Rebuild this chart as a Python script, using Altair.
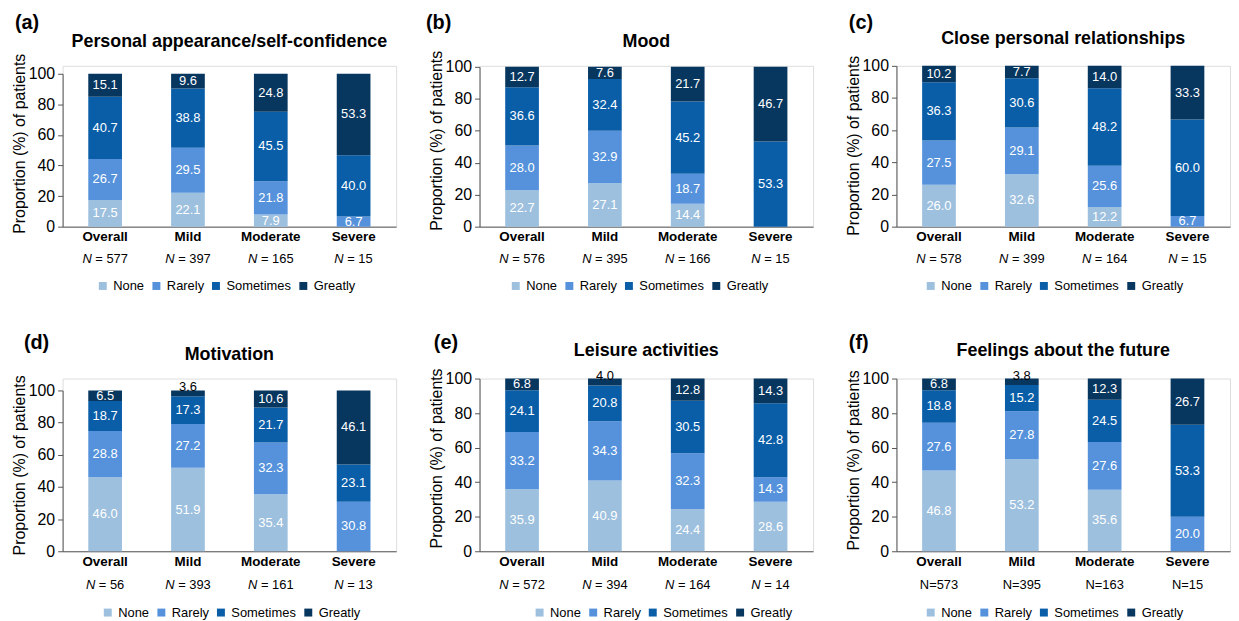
import altair as alt
import pandas as pd

F = "Liberation Sans"

categories = ["Overall", "Mild", "Moderate", "Severe"]
levels = ["None", "Rarely", "Sometimes", "Greatly"]
colors = ["#9DC0DE", "#5592DB", "#0A5EA8", "#07365F"]

letters = ["(a)", "(b)", "(c)", "(d)", "(e)", "(f)"]
titles = ["Personal appearance/self-confidence", "Mood", "Close personal relationships",
          "Motivation", "Leisure activities", "Feelings about the future"]

n_a = [577, 397, 165, 15]
n_b = [576, 395, 166, 15]
n_c = [578, 399, 164, 15]
n_d = [56, 393, 161, 13]
n_e = [572, 394, 164, 14]
n_f = [573, 395, 163, 15]

a_none = [17.5, 22.1, 7.9, 0.0]
a_rarely = [26.7, 29.5, 21.8, 6.7]
a_sometimes = [40.7, 38.8, 45.5, 40.0]
a_greatly = [15.1, 9.6, 24.8, 53.3]

b_none = [22.7, 27.1, 14.4, 0.0]
b_rarely = [28.0, 32.9, 18.7, 0.0]
b_sometimes = [36.6, 32.4, 45.2, 53.3]
b_greatly = [12.7, 7.6, 21.7, 46.7]

c_none = [26.0, 32.6, 12.2, 0.0]
c_rarely = [27.5, 29.1, 25.6, 6.7]
c_sometimes = [36.3, 30.6, 48.2, 60.0]
c_greatly = [10.2, 7.7, 14.0, 33.3]

d_none = [46.0, 51.9, 35.4, 0.0]
d_rarely = [28.8, 27.2, 32.3, 30.8]
d_sometimes = [18.7, 17.3, 21.7, 23.1]
d_greatly = [6.5, 3.6, 10.6, 46.1]

e_none = [35.9, 40.9, 24.4, 28.6]
e_rarely = [33.2, 34.3, 32.3, 14.3]
e_sometimes = [24.1, 20.8, 30.5, 42.8]
e_greatly = [6.8, 4.0, 12.8, 14.3]

f_none = [46.8, 53.2, 35.6, 0.0]
f_rarely = [27.6, 27.8, 27.6, 20.0]
f_sometimes = [18.8, 15.2, 24.5, 53.3]
f_greatly = [6.8, 3.8, 12.3, 26.7]

panel_values = [
    [a_none, a_rarely, a_sometimes, a_greatly],
    [b_none, b_rarely, b_sometimes, b_greatly],
    [c_none, c_rarely, c_sometimes, c_greatly],
    [d_none, d_rarely, d_sometimes, d_greatly],
    [e_none, e_rarely, e_sometimes, e_greatly],
    [f_none, f_rarely, f_sometimes, f_greatly],
]
panel_ns = [n_a, n_b, n_c, n_d, n_e, n_f]

# layout settings (pixels, relative to each plot's origin)
W = 336
layout = [
    dict(h=162, top=8, lx=34, ly=215, tx=-48, ty=-43, hy=-19, yt=78, ny=33, italic=True),
    dict(h=162, top=1, lx=30, ly=215, tx=-54, ty=-43, hy=-19, yt=75, ny=33, italic=True),
    dict(h=162, top=0, lx=28, ly=215, tx=-48, ty=-43, hy=-22, yt=80, ny=33, italic=True),
    dict(h=174, top=12, lx=39, ly=229, tx=-39, ty=-36, hy=-19, yt=87, ny=34, italic=True),
    dict(h=174, top=0, lx=54, ly=229, tx=-46, ty=-36, hy=-23, yt=80, ny=34, italic=True),
    dict(h=174, top=0, lx=28, ly=229, tx=-48, ty=-36, hy=-23, yt=82, ny=34, italic=False),
]


def panel(i):
    vals = panel_values[i]
    ns = panel_ns[i]
    lay = layout[i]
    H = lay["h"]
    rows = []
    for ci, cat in enumerate(categories):
        cum = 0.0
        for li, lev in enumerate(levels):
            v = vals[li][ci]
            rows.append(dict(cat=cat, level=lev, idx=li, value=v,
                             mid=cum + v / 2.0, top=cum + v))
            cum += v
    df = pd.DataFrame(rows)
    dn = pd.DataFrame({"cat": categories, "n": ns})

    yscale = alt.Scale(domain=[0, 100], range=[H, lay["top"]], nice=False, zero=True)
    xscale = alt.Scale(domain=categories, paddingInner=0.593, paddingOuter=0.31)
    xaxis = alt.Axis(labelFontSize=13.5, labelFontWeight="bold", labelFont=F,
                     labelColor="black", ticks=False, tickSize=0, labelPadding=3,
                     domainColor="#555555", labelAngle=0, title=None, grid=False)
    yaxis = alt.Axis(values=[0, 20, 40, 60, 80, 100], tickSize=5, tickColor="#555555",
                     domainColor="#555555", labelFontSize=16, labelFont=F,
                     labelColor="black", labelPadding=3, titleFontSize=16,
                     titleFont=F, titleFontWeight="normal", titleColor="black",
                     titlePadding=1, titleY=lay["yt"], grid=False)

    def xenc():
        return alt.X("cat:N", scale=xscale, sort=categories, axis=xaxis, title=None)

    def yenc(field):
        return alt.Y(field, scale=yscale, axis=yaxis, title="Proportion (%) of patients")

    base = alt.Chart(df)
    bars = base.mark_bar().encode(
        x=xenc(),
        y=alt.Y("value:Q", stack="zero", scale=yscale, axis=yaxis,
                title="Proportion (%) of patients"),
        color=alt.Color("level:N", scale=alt.Scale(domain=levels, range=colors),
                        legend=alt.Legend(orient="none", legendX=lay["lx"],
                                          legendY=lay["ly"], direction="horizontal",
                                          title=None, symbolType="square",
                                          symbolSize=64, symbolStrokeWidth=0,
                                          labelFontSize=13, labelFont=F,
                                          labelColor="black", labelOffset=4,
                                          columnPadding=5)),
        order=alt.Order("idx:Q"),
    )
    inside = base.transform_filter("datum.value >= 5").mark_text(
        color="white", fontSize=13, font=F, baseline="middle"
    ).encode(x=xenc(), y=yenc("mid:Q"), text=alt.Text("value:Q", format=".1f"))
    outside = base.transform_filter("datum.value > 0 && datum.value < 5").mark_text(
        color="black", fontSize=13, font=F, baseline="alphabetic", dy=1
    ).encode(x=xenc(), y=yenc("top:Q"), text=alt.Text("value:Q", format=".1f"))

    layers = [bars, inside, outside]
    nbase = alt.Chart(dn)
    ny = H + lay["ny"]
    if lay["italic"]:
        for cond, b in [("datum.n >= 100", -13.5), ("datum.n < 100", -10)]:
            layers.append(nbase.transform_filter(cond).mark_text(
                text="N", fontStyle="italic", fontSize=13, font=F, color="black",
                align="right", baseline="middle", dx=b
            ).encode(x=xenc(), y=alt.value(ny)))
            layers.append(nbase.transform_filter(cond).transform_calculate(
                lab="'= ' + datum.n"
            ).mark_text(
                fontSize=13, font=F, color="black", align="left",
                baseline="middle", dx=b + 3.6
            ).encode(x=xenc(), y=alt.value(ny), text="lab:N"))
    else:
        layers.append(nbase.transform_calculate(lab="'N=' + datum.n").mark_text(
            fontSize=13, font=F, color="black", align="center", baseline="middle"
        ).encode(x=xenc(), y=alt.value(ny), text="lab:N"))

    heads = alt.Chart(pd.DataFrame({"lab": [letters[i]], "ttl": [titles[i]]}))
    letter = heads.mark_text(
        fontSize=20, fontWeight="bold", font=F, color="black",
        align="left", baseline="middle"
    ).encode(x=alt.value(lay["tx"]), y=alt.value(lay["ty"]), text="lab:N")
    head = heads.mark_text(
        fontSize=18, fontWeight="bold", font=F, color="black",
        align="center", baseline="alphabetic"
    ).encode(x=alt.value(W / 2), y=alt.value(lay["hy"]), text="ttl:N")
    layers += [letter, head]

    return alt.layer(*layers).properties(width=W, height=H)


chart = alt.concat(
    *[panel(i) for i in range(6)], columns=3,
    spacing={"row": 153, "column": 84}, bounds="flush",
).resolve_scale(x="independent", y="independent", color="independent").properties(
    padding={"left": 2, "top": 2, "right": 0, "bottom": 0}
).configure_view(stroke=None).configure(background="white")

chart.save("out.html", embed_options={"renderer": "svg", "actions": False})
